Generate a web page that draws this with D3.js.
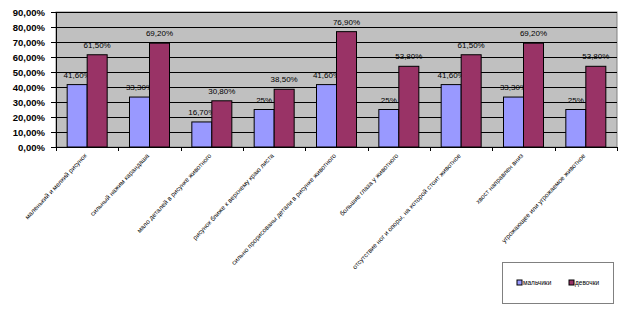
<!DOCTYPE html>
<html>
<head>
<meta charset="utf-8">
<script src="https://cdn.jsdelivr.net/npm/d3@7"></script>
<style>
  body { margin: 0; background: #fff; }
  svg { font-family: Arial, "Liberation Sans", sans-serif; }
</style>
</head>
<body>
<div id="container"></div>
<script>
let w = 623;
let h = 312;

let categories = [
  'маленький и мелкий рисунок',
  'сильный нажим карандаша',
  'мало деталей в рисунке животного',
  'рисунок ближе к верхнему краю листа',
  'сильно прорисованы детали в рисунке животного',
  'большие глаза у животного',
  'отсутствие ног и опоры, на которой стоит животное',
  'хвост направлен вниз',
  'угрожающее или угрожаемое животное'
];
let boys = [41.6, 33.3, 16.7, 25, 41.6, 25, 41.6, 33.3, 25];
let girls = [61.5, 69.2, 30.8, 38.5, 76.9, 53.8, 61.5, 69.2, 53.8];
let seriesNames = ['мальчики', 'девочки'];
let colors = ['#9999ff', '#993366'];
let yTicks = [0, 10, 20, 30, 40, 50, 60, 70, 80, 90];

function fmt(v){
  if (v === Math.round(v) && v !== 0 && v % 10 !== 0) return v + '%';
  return v.toFixed(2).replace('.', ',') + '%';
}
function fmtAxis(v){
  return v.toFixed(2).replace('.', ',') + '%';
}

let viz = d3.select('#container')
  .append('svg')
    .attr('width', w)
    .attr('height', h);

let plotLeft = 56, plotRight = 617, plotTop = 12, plotBottom = 147;

let xScale = d3.scaleBand().domain(d3.range(categories.length)).range([plotLeft, plotRight]);
let yScale = d3.scaleLinear().domain([0, 90]).range([plotBottom, plotTop]);

// plot area
viz.append('rect')
  .attr('x', plotLeft).attr('y', plotTop)
  .attr('width', plotRight - plotLeft).attr('height', plotBottom - plotTop)
  .attr('fill', '#c0c0c0')
  .attr('stroke', '#808080');

// gridlines
viz.append('g').selectAll('line')
  .data(yTicks.slice(1))
  .join('line')
    .attr('x1', plotLeft).attr('x2', plotRight)
    .attr('y1', d => yScale(d) + 0.5).attr('y2', d => yScale(d) + 0.5)
    .attr('stroke', '#000').attr('stroke-width', 1);

// y axis
let yAxis = d3.axisLeft(yScale).tickValues(yTicks).tickFormat(fmtAxis).tickSize(5).tickPadding(6);
let yAxisGroup = viz.append('g').attr('class', 'yaxis')
  .attr('transform', 'translate(' + plotLeft + ', 0)')
  .call(yAxis);
yAxisGroup.selectAll('text')
  .style('font-size', '9.5px').style('font-weight', 'bold').attr('fill', '#000');
yAxisGroup.selectAll('line, path').attr('stroke', '#000');

// x axis line with ticks at category boundaries
viz.append('line')
  .attr('x1', plotLeft).attr('x2', plotRight)
  .attr('y1', plotBottom + 0.5).attr('y2', plotBottom + 0.5)
  .attr('stroke', '#000');
viz.append('g').selectAll('line')
  .data(d3.range(categories.length + 1))
  .join('line')
    .attr('x1', d => Math.round(plotLeft + d * xScale.step()) + 0.5)
    .attr('x2', d => Math.round(plotLeft + d * xScale.step()) + 0.5)
    .attr('y1', plotBottom).attr('y2', plotBottom + 4)
    .attr('stroke', '#000');

let barW = 20;

// bars
let series = [boys, girls];
series.forEach(function(vals, s){
  let g = viz.append('g');
  g.selectAll('rect')
    .data(vals)
    .join('rect')
      .attr('x', (d, i) => xScale(i) + xScale.bandwidth() / 2 - barW + s * barW)
      .attr('y', d => yScale(d))
      .attr('width', barW)
      .attr('height', d => plotBottom - yScale(d))
      .attr('fill', colors[s])
      .attr('stroke', '#000')
      .attr('stroke-width', 1);
  g.selectAll('text')
    .data(vals)
    .join('text')
      .attr('x', (d, i) => xScale(i) + xScale.bandwidth() / 2 - barW / 2 + s * barW)
      .attr('y', d => yScale(d) - 7)
      .attr('text-anchor', 'middle')
      .style('font-size', '8px')
      .attr('fill', '#000')
      .text(d => fmt(d));
});

// category labels
viz.append('g').selectAll('text')
  .data(categories)
  .join('text')
    .attr('transform', (d, i) => 'translate(' + (xScale(i) + xScale.bandwidth() / 2) + ',' + 156 + ') rotate(-47)')
    .attr('text-anchor', 'end')
    .style('font-size', '6.5px')
    .attr('fill', '#000')
    .text(d => d);

// legend
let legend = viz.append('g');
legend.append('rect')
  .attr('x', 502.5).attr('y', 262.5).attr('width', 111).attr('height', 41)
  .attr('fill', '#fff').attr('stroke', '#808080');
let legX = [517, 569];
seriesNames.forEach(function(name, s){
  legend.append('rect')
    .attr('x', legX[s]).attr('y', 280).attr('width', 5).attr('height', 5)
    .attr('fill', colors[s]).attr('stroke', '#000');
  legend.append('text')
    .attr('x', legX[s] + 6).attr('y', 285)
    .style('font-size', '6.5px')
    .attr('fill', '#000')
    .text(name);
});
</script>
</body>
</html>
